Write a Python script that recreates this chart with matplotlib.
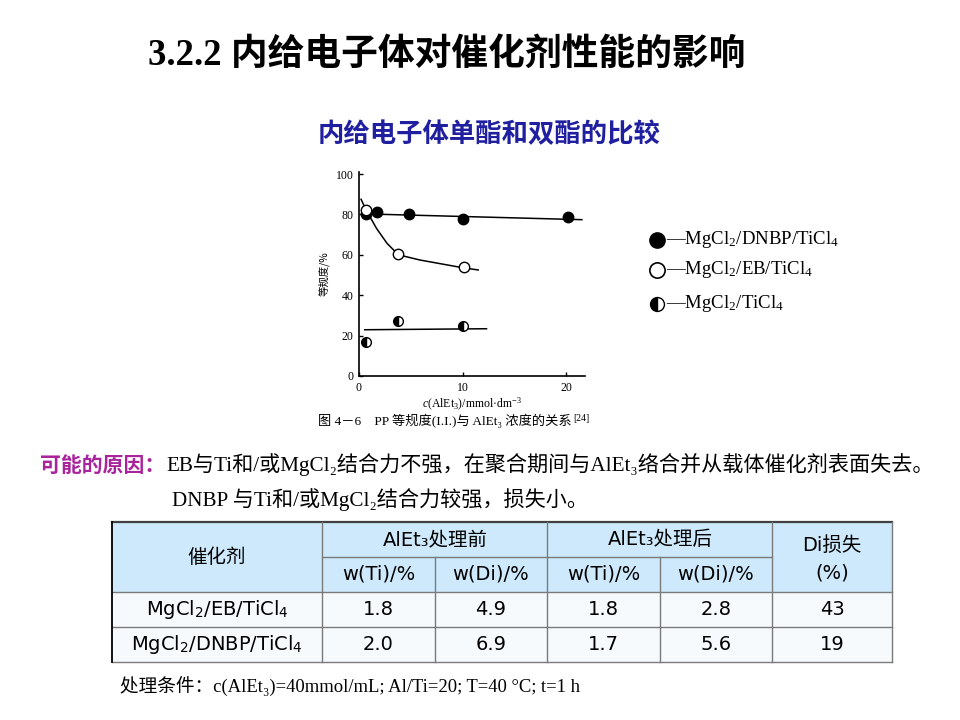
import numpy as np
import matplotlib
matplotlib.use('Agg')
import matplotlib.pyplot as plt
from matplotlib.patches import Rectangle

plt.rcParams['mathtext.fontset'] = 'custom'
plt.rcParams['mathtext.rm'] = 'Liberation Serif'
plt.rcParams['mathtext.it'] = 'Liberation Serif:italic'
plt.rcParams['mathtext.sf'] = 'DejaVu Sans'

SERIF_CJK = ['Liberation Serif', 'DejaVu Serif', 'Noto Sans CJK SC']
SANS_CJK = ['DejaVu Sans', 'Noto Sans CJK SC']
CJK = ['Noto Sans CJK SC', 'DejaVu Sans']

# ---- figure data ----
conc_dnbp = [0.7, 1.7, 4.8, 10.0, 20.2]
ii_dnbp = [80.3, 81.0, 80.0, 77.8, 78.6]
conc_eb = [0.7, 3.8, 10.1]
ii_eb = [82.2, 60.2, 53.9]
conc_ti = [0.7, 3.8, 10.0]
ii_ti = [16.8, 27.1, 24.7]

# hand drawn trend lines
fit_dnbp_x = [1.0, 21.5]
fit_dnbp_y = [80.2, 77.4]
fit_eb_x = [0.2, 0.7, 1.7, 2.7, 3.8, 5.9, 8.5, 10.0, 11.5]
fit_eb_y = [87.5, 82.0, 73.0, 65.7, 60.0, 57.4, 55.0, 53.6, 52.5]
fit_ti_x = [0.55, 12.3]
fit_ti_y = [22.9, 23.4]

series_labels = ['—MgCl$_2$/DNBP/TiCl$_4$', '—MgCl$_2$/EB/TiCl$_4$', '—MgCl$_2$/TiCl$_4$']

# ---- table data ----
catalysts = ['MgCl$_\\mathsf{2}$/EB/TiCl$_\\mathsf{4}$', 'MgCl$_\\mathsf{2}$/DNBP/TiCl$_\\mathsf{4}$']
ti_before = [1.8, 2.0]
di_before = [4.9, 6.9]
ti_after = [1.8, 1.7]
di_after = [2.8, 5.6]
di_loss = [43, 19]
group_heads = ['AlEt₃处理前', 'AlEt₃处理后']
sub_heads = ['w(Ti)/%', 'w(Di)/%', 'w(Ti)/%', 'w(Di)/%']

fig = plt.figure(figsize=(9.6, 7.2), dpi=100)
ax0 = fig.add_axes([0, 0, 1, 1])
ax0.set_xlim(0, 960)
ax0.set_ylim(720, 0)
ax0.axis('off')

# titles
ax0.text(148, 55, '3.2.2 内给电子体对催化剂性能的影响', family=SERIF_CJK, fontweight='bold',
         fontsize=26.5, ha='left', va='center')
ax0.text(489, 135, '内给电子体单酯和双酯的比较', family=CJK, fontweight='bold',
         fontsize=19, color='#1f1fa0', ha='center', va='center')

# ---- the scanned plot ----
ax = fig.add_axes([359 / 960, (720 - 376) / 720, (585 - 359) / 960, (376 - 172) / 720])
ax.set_xlim(0, 21.8)
ax.set_ylim(0, 101)
ax.plot(fit_dnbp_x, fit_dnbp_y, color='black', lw=1.1)
ax.plot(fit_eb_x, fit_eb_y, color='black', lw=1.1)
ax.plot(fit_ti_x, fit_ti_y, color='black', lw=1.1)
ax.plot(conc_dnbp, ii_dnbp, 'o', ms=7.5, mfc='black', mec='black', mew=1)
ax.plot(conc_eb, ii_eb, 'o', ms=7.5, mfc='white', mec='black', mew=1)
ax.plot(conc_ti, ii_ti, 'o', ms=7, mfc='black', mec='black', mew=1,
        fillstyle='left', markerfacecoloralt='white')
for s in ['top', 'right']:
    ax.spines[s].set_visible(False)
for s in ['left', 'bottom']:
    ax.spines[s].set_linewidth(1.2)
ax.set_xticks([0, 10, 20])
ax.set_yticks([0, 20, 40, 60, 80, 100])
ax.tick_params(direction='in', length=3, width=1, labelsize=8.5, pad=4)
for lab in ax.get_xticklabels() + ax.get_yticklabels():
    lab.set_family('Liberation Serif')
ax.set_xlabel('$c$(AlEt$_3$)/mmol·dm$^{-3}$', family='Liberation Serif', fontsize=8.5, labelpad=2)
ax.set_ylabel('等规度/%', family=CJK, fontsize=7.5, labelpad=4)
ax.patch.set_alpha(0)

cap = ax0.text(318, 421, '图 4－6　PP 等规度(I.I.)与 AlEt₃ 浓度的关系', family=SERIF_CJK,
               fontsize=9.5, ha='left', va='center')
ax0.annotate('[24]', xy=(1, 1), xycoords=cap, xytext=(1, 0), textcoords='offset points',
             family='Liberation Serif', fontsize=7, ha='left', va='top')

# legend, drawn by hand
leg_y = [240, 270, 304]
ax0.plot(657, leg_y[0], 'o', ms=11, mfc='black', mec='black')
ax0.plot(657, leg_y[1], 'o', ms=11, mfc='white', mec='black', mew=1.2)
ax0.plot(657, leg_y[2], 'o', ms=10, mfc='black', mec='black', mew=1,
         fillstyle='left', markerfacecoloralt='white')
for yy, lab in zip(leg_y, series_labels):
    ax0.text(666, yy, lab, family='Liberation Serif', fontsize=13.5, ha='left', va='center')

# ---- explanation text ----
ax0.text(40, 465, '可能的原因：', family=CJK, fontweight='bold', fontsize=15,
         color='#a8239c', ha='left', va='center')
ax0.text(166, 465, 'EB与Ti和/或MgCl₂结合力不强，在聚合期间与AlEt₃络合并从载体催化剂表面失去。',
         family=SERIF_CJK, fontsize=15.2, ha='left', va='center')
ax0.text(172, 500, 'DNBP 与Ti和/或MgCl₂结合力较强，损失小。',
         family=SERIF_CJK, fontsize=15.2, ha='left', va='center')

# ---- table ----
col_x = [112, 322, 435, 547, 660, 772, 892]
row_y = [522, 557, 592, 627, 662]
ax0.add_patch(Rectangle((col_x[0], row_y[0]), col_x[-1] - col_x[0], row_y[2] - row_y[0],
                        facecolor='#cde9fb', edgecolor='none'))
ax0.add_patch(Rectangle((col_x[0], row_y[2]), col_x[-1] - col_x[0], row_y[4] - row_y[2],
                        facecolor='#f6fafd', edgecolor='none'))
gc = '#7a7a7a'
ax0.plot([col_x[0], col_x[-1]], [row_y[0], row_y[0]], color='#404040', lw=1.6)
for yy in row_y[2:]:
    ax0.plot([col_x[0], col_x[-1]], [yy, yy], color=gc, lw=1)
ax0.plot([col_x[1], col_x[5]], [row_y[1], row_y[1]], color=gc, lw=1)
for xx in [col_x[1], col_x[3], col_x[5], col_x[6]]:
    ax0.plot([xx, xx], [row_y[0], row_y[-1]], color=gc, lw=1)
for xx in [col_x[2], col_x[4]]:
    ax0.plot([xx, xx], [row_y[1], row_y[-1]], color=gc, lw=1)
ax0.plot([col_x[0], col_x[0]], [row_y[0], row_y[-1]], color='black', lw=1.3)

tk = dict(fontsize=14, ha='center', va='center')
cx = [(col_x[i] + col_x[i + 1]) / 2 for i in range(6)]
ax0.text(cx[0], (row_y[0] + row_y[2]) / 2, '催化剂', family=SANS_CJK, **tk)
ax0.text(col_x[2], (row_y[0] + row_y[1]) / 2, group_heads[0], family=SANS_CJK, **tk)
ax0.text(col_x[4], (row_y[0] + row_y[1]) / 2, group_heads[1], family=SANS_CJK, **tk)
ax0.text(cx[5], 545, 'Di损失', family=SANS_CJK, **tk)
ax0.text(cx[5], 573, '(%)', family=SANS_CJK, **tk)
for i, h in enumerate(sub_heads):
    ax0.text(cx[i + 1], (row_y[1] + row_y[2]) / 2, h, family=SANS_CJK, **tk)
for r in range(2):
    yy = (row_y[2 + r] + row_y[3 + r]) / 2
    vals = [catalysts[r], f'{ti_before[r]:.1f}', f'{di_before[r]:.1f}',
            f'{ti_after[r]:.1f}', f'{di_after[r]:.1f}', f'{di_loss[r]:d}']
    for c, v in enumerate(vals):
        ax0.text(cx[c], yy, v, family='DejaVu Sans', **tk)

ax0.text(120, 686, '处理条件：c(AlEt₃)=40mmol/mL; Al/Ti=20; T=40 °C; t=1 h',
         family=SERIF_CJK, fontsize=13.4, ha='left', va='center')

fig.savefig('out.png', dpi=100)
